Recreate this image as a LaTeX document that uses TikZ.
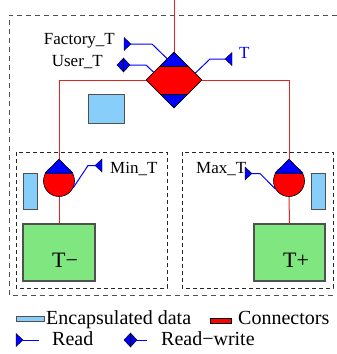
\documentclass[tikz,border=0pt]{standalone}
\usepackage{fontspec}
\setmainfont{Liberation Serif}
\usetikzlibrary{shapes.geometric,calc}
\definecolor{cred}{RGB}{225,35,35}
\definecolor{lblue}{RGB}{135,206,250}
\definecolor{lgreen}{RGB}{128,230,128}
\definecolor{dgray}{RGB}{80,80,80}
\tikzset{
  outerdash/.style={draw=dgray, dash pattern=on 5pt off 4pt, line width=0.9pt},
  innerdash/.style={draw=black!85, dash pattern=on 4pt off 3pt, line width=0.7pt},
  conn/.style={cred, line width=1pt},
  rwline/.style={blue, line width=1pt},
  encap/.style={rectangle, draw=dgray, fill=lblue, line width=0.8pt, inner sep=0pt},
  block/.style={rectangle, draw=dgray, fill=lgreen, line width=1.2pt, inner sep=0pt},
  lbl/.style={inner sep=0pt, font=\fontsize{17}{20}\selectfont},
  leg/.style={inner sep=0pt, font=\fontsize{20}{22}\selectfont},
  big/.style={inner sep=0pt, font=\fontsize{22}{24}\selectfont},
  rmark/.pic={
    \filldraw[blue, draw=black, line width=0.4pt] (-3.5,-6.5) -- (3.5,0) -- (-3.5,6.5) -- cycle;
    \coordinate (-tip) at (3.5,0);
  },
  dmark/.pic={
    \filldraw[blue, draw=black, line width=0.4pt] (-6.5,0) -- (0,-7) -- (6.5,0) -- (0,7) -- cycle;
    \draw[black, line width=0.4pt] (0,-7) -- (0,7);
    \coordinate (-tip) at (6.5,0);
  }
}
\begin{document}
\begin{tikzpicture}[x=1pt, y=-1pt]
\useasboundingbox (0,0) rectangle (337,354);

% dashed frames
\draw[outerdash] (337,15) -- (9,15) -- (9,295) -- (337,295);
\draw[innerdash] (16,152) rectangle (167,288);
\draw[innerdash] (182,152) rectangle (333,288);

% central connector
\node[diamond, minimum width=56pt, minimum height=56pt, inner sep=0pt, fill=red, draw=black, line width=0.6pt,
  path picture={
    \fill[blue] (path picture bounding box.north west) rectangle ([yshift=-14pt]path picture bounding box.north east);
    \fill[blue] (path picture bounding box.south west) rectangle ([yshift=14pt]path picture bounding box.south east);
    \draw[black, line width=0.6pt] ([yshift=-14pt]path picture bounding box.north west) -- ([yshift=-14pt]path picture bounding box.north east);
    \draw[black, line width=0.6pt] ([yshift=14pt]path picture bounding box.south west) -- ([yshift=14pt]path picture bounding box.south east);
  }] (hub) at (174,80) {};
\coordinate (top) at (174,0);

% encapsulated data
\node[encap, minimum width=36pt, minimum height=29pt] (e0) at (106,108.5) {};
\node[encap, minimum width=14pt, minimum height=36pt] (e1) at (30,191) {};
\node[encap, minimum width=14pt, minimum height=36pt] (e2) at (318,191) {};

% blocks
\node[block, minimum width=72pt, minimum height=57pt] (lb) at (59,252.5) {};
\node[block, minimum width=71pt, minimum height=57pt] (rb) at (289.5,252.5) {};
\node[big, anchor=base west] (tminus) at (52,267) {T−};
\node[big, anchor=base west] (tplus) at (283,267) {T+};

% drops
\node[circle, minimum size=31pt, inner sep=0pt, fill=red, draw=black, line width=0.6pt] (lc) at (59,181) {};
\begin{scope}
  \clip (20,150) rectangle (100,173);
  \fill[blue] (lc.center) circle[radius=16pt];
\end{scope}
\filldraw[blue, draw=black, line width=0.6pt] (45.5,173) -- (59,159) -- (72.5,173) -- cycle;
\coordinate (lt) at (59,159);

\node[circle, minimum size=31pt, inner sep=0pt, fill=red, draw=black, line width=0.6pt] (rc) at (289,181) {};
\begin{scope}
  \clip (250,150) rectangle (330,173);
  \fill[blue] (rc.center) circle[radius=16pt];
\end{scope}
\filldraw[blue, draw=black, line width=0.6pt] (275.5,173) -- (289,159) -- (302.5,173) -- cycle;
\coordinate (rt) at (289,159);

% connector lines
\draw[conn] (hub.north) -- (top);
\draw[conn] (hub.west) -- (59,80) -- (lt);
\draw[conn] (hub.east) -- (289,80) -- (rt);
\draw[conn] (lc.south) -- (lb.north);
\draw[conn] (rc.south) -- (rb.north);

% ports
\pic (fac) at (127.5,44) {rmark};
\pic (usr) at (123.5,65) {dmark};
\pic[rotate=180] (tm) at (228.5,59) {rmark};
\pic[rotate=180] (minm) at (98.5,165.5) {rmark};
\pic (maxm) at (248.5,173.5) {rmark};

\draw[rwline] (fac-tip) -- (152,44) -- (hub.108);
\draw[rwline] (usr-tip) -- (146,65) -- (hub.159);
\draw[rwline] (hub.18) -- (210,59) -- (tm-tip);
\draw[rwline] (lc.-25) -- (88,165.5) -- (minm-tip);
\draw[rwline] (maxm-tip) -- (260,173.5) -- (rc.210);

% labels
\node[lbl, anchor=base east] (lfac) at (115,44) {Factory\_T};
\node[lbl, anchor=base east] (lusr) at (103,66) {User\_T};
\node[lbl, anchor=base west, text=blue] (lt0) at (239,58) {T};
\node[lbl, anchor=base west] (lmin) at (110,173) {Min\_T};
\node[lbl, anchor=base west] (lmax) at (196,173) {Max\_T};

% legend
\node[encap, minimum width=28pt, minimum height=5pt] (leg1) at (30,319.3) {};
\node[leg, anchor=base west] (leg1t) at (46,324) {Encapsulated data};
\node[rectangle, fill=red, draw=black, line width=0.6pt, inner sep=0pt, minimum width=21pt, minimum height=5pt] (leg2) at (221,320.5) {};
\node[leg, anchor=base west] (leg2t) at (238,324) {Connectors};
\pic (leg3) at (19.5,340) {rmark};
\coordinate (leg3e) at (39,340);
\draw[rwline] (leg3-tip) -- (leg3e);
\node[leg, anchor=base west] (leg3t) at (52,345) {Read};
\pic (leg4) at (130.5,340) {dmark};
\coordinate (leg4e) at (147,340);
\draw[rwline] (leg4-tip) -- (leg4e);
\node[leg, anchor=base west] (leg4t) at (161,345) {Read−write};
\end{tikzpicture}
\end{document}
